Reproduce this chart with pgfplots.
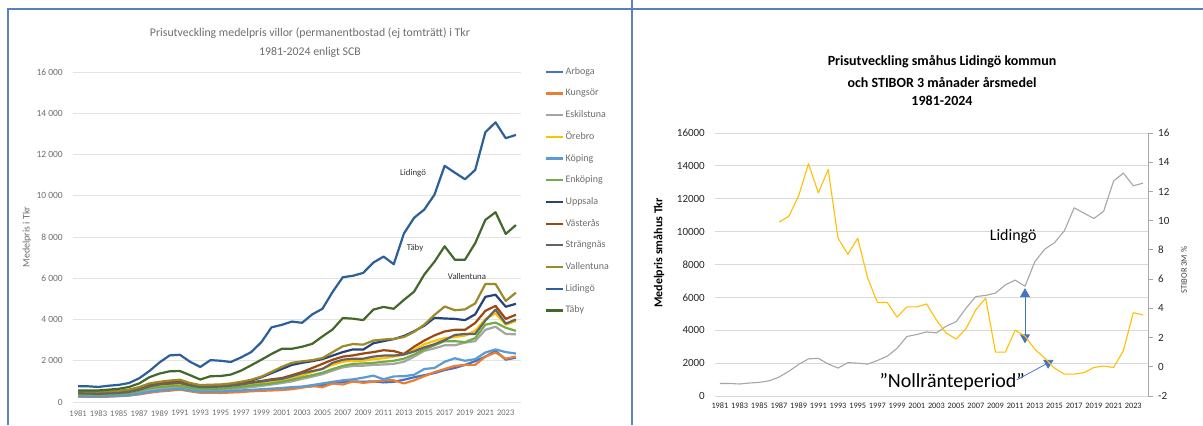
\documentclass[border=0pt]{standalone}
\usepackage{fontspec}
\setmainfont{Carlito}
\usepackage{pgfplots}
\usepackage{pgfplotstable}
\pgfplotsset{compat=1.18}
\usetikzlibrary{arrows.meta}

% Office palette for the twelve municipalities
\definecolor{cArboga}{HTML}{4472C4}
\definecolor{cKungsor}{HTML}{ED7D31}
\definecolor{cEskilstuna}{HTML}{A5A5A5}
\definecolor{cOrebro}{HTML}{FFC000}
\definecolor{cKoping}{HTML}{5B9BD5}
\definecolor{cEnkoping}{HTML}{70AD47}
\definecolor{cUppsala}{HTML}{264478}
\definecolor{cVasteras}{HTML}{9E480E}
\definecolor{cStrangnas}{HTML}{636363}
\definecolor{cVallentuna}{HTML}{9A8A2A}
\definecolor{cLidingo}{HTML}{2D5F98}
\definecolor{cTaby}{HTML}{43682B}
\definecolor{txtgray}{HTML}{6E6E6E}
\definecolor{gridgray}{HTML}{E3E3E3}
\definecolor{gridgray2}{HTML}{D9D9D9}
\definecolor{axisgray}{HTML}{A6A6A6}
\definecolor{frameblue}{HTML}{5B7FC4}
\definecolor{arrowblue}{HTML}{4472C4}

% Average villa price (Tkr) per municipality
\pgfplotstableread{
year Arboga Kungsor Eskilstuna Orebro Koping Enkoping Uppsala Vasteras Strangnas Vallentuna Lidingo Taby
1981 300 260 330 400 280 380 500 450 420 520 760 560
1982 290 250 320 390 270 370 490 440 410 510 760 560
1983 290 250 320 380 270 360 480 430 400 500 730 560
1984 300 260 330 400 280 380 500 450 420 520 790 600
1985 310 280 350 420 300 400 520 470 440 540 830 640
1986 340 310 390 470 330 440 580 530 490 600 920 730
1987 400 370 470 570 400 540 700 650 600 720 1150 900
1988 480 450 580 720 490 670 860 820 760 900 1500 1200
1989 540 510 640 790 560 730 940 900 850 980 1920 1380
1990 580 550 680 830 600 760 990 950 890 1040 2260 1490
1991 620 600 700 850 640 780 1010 980 920 1080 2290 1500
1992 540 520 620 740 560 690 880 850 800 920 1950 1300
1993 470 450 560 680 500 630 790 760 720 820 1700 1090
1994 480 450 570 690 510 640 800 770 730 840 2030 1250
1995 480 440 580 700 510 650 820 790 750 850 2000 1260
1996 500 460 610 740 530 690 870 830 790 900 1940 1330
1997 530 480 660 790 560 740 940 900 850 980 2160 1520
1998 560 520 720 850 590 800 1040 960 930 1080 2420 1780
1999 580 540 780 900 620 850 1200 1020 990 1230 2900 2050
2000 600 560 850 960 650 900 1400 1100 1060 1460 3620 2330
2001 630 580 920 1050 680 980 1600 1160 1120 1700 3740 2580
2002 680 620 1000 1150 720 1080 1800 1300 1250 1900 3900 2580
2003 720 700 1120 1300 750 1200 1900 1450 1400 1970 3840 2680
2004 760 780 1230 1450 820 1300 1980 1650 1500 2030 4250 2820
2005 820 720 1350 1620 900 1420 2080 1850 1600 2130 4520 3180
2006 900 900 1520 1800 980 1600 2250 2050 1900 2420 5340 3520
2007 970 850 1680 1950 1050 1750 2420 2200 2050 2700 6050 4070
2008 1000 1000 1750 2000 1100 1850 2550 2260 2100 2810 6120 4040
2009 980 930 1760 2000 1180 1870 2540 2350 2100 2780 6260 3970
2010 1000 980 1800 2080 1280 1900 2850 2420 2200 2980 6760 4480
2011 950 1050 1820 2120 1100 1950 2950 2510 2250 3030 7050 4610
2012 980 1050 1850 2200 1240 2000 3050 2470 2250 3060 6680 4520
2013 1080 900 1950 2300 1250 2100 3200 2330 2300 3150 8170 4950
2014 1200 1050 2200 2520 1320 2300 3430 2680 2450 3400 8930 5350
2015 1300 1250 2480 2800 1600 2550 3700 2980 2650 3750 9330 6180
2016 1400 1450 2600 2960 1650 2750 4080 3230 2800 4220 10050 6800
2017 1550 1600 2750 3100 1950 2950 4050 3420 3000 4630 11450 7550
2018 1650 1750 2750 3150 2120 2950 4030 3500 3250 4450 11120 6900
2019 1800 1800 2880 3220 2000 2900 3970 3500 3300 4490 10800 6900
2020 1980 1800 2950 3450 2080 3100 4250 3830 3300 4780 11250 7700
2021 2200 2200 3500 4020 2400 3750 5100 4420 3950 5720 13080 8830
2022 2480 2400 3650 4300 2550 3850 5200 4660 4480 5720 13560 9200
2023 2050 2100 3300 3750 2420 3600 4620 4030 3800 4900 12790 8150
2024 2150 2200 3280 3920 2350 3450 4760 4230 4000 5300 12950 8580
}\prices

% STIBOR 3M, annual mean (%)
\pgfplotstableread{
year rate
1987 9.9
1988 10.3
1989 11.7
1990 13.9
1991 11.9
1992 13.5
1993 8.8
1994 7.7
1995 8.8
1996 6.1
1997 4.4
1998 4.4
1999 3.4
2000 4.1
2001 4.1
2002 4.3
2003 3.2
2004 2.3
2005 1.9
2006 2.6
2007 3.9
2008 4.7
2009 1.0
2010 1.0
2011 2.5
2012 2.1
2013 1.2
2014 0.6
2015 -0.1
2016 -0.5
2017 -0.5
2018 -0.4
2019 -0.05
2020 0.05
2021 -0.05
2022 1.1
2023 3.7
2024 3.55
}\stibor

\pgfplotsset{
  yearaxis/.style={
    scale only axis,
    anchor=south west,
    xmin=1980.5, xmax=2024.5,
    xtick={1981,1983,...,2023},
    scaled ticks=false,
    /pgf/number format/assume math mode=true,
    /pgf/number format/1000 sep={},
    axis line style={draw=none},
    major tick length=0pt,
    clip=false,
  },
  muni/.style={line width=2.2bp, line join=round},
}

\begin{document}
\begin{tikzpicture}[x=1bp,y=1bp]
\useasboundingbox (0,0) rectangle (1203,425);
\fill[white] (0,0) rectangle (1203,425);

% panel frames
\draw[frameblue, line width=1.5bp] (8,0) -- (8,416) -- (1203,416);
\draw[frameblue, line width=1.5bp] (632,0) -- (632,425);

% ---------------- left panel ----------------
\node[text=txtgray, font=\fontsize{11.8bp}{13bp}\selectfont] at (310,392)
  {Prisutveckling medelpris villor (permanentbostad (ej tomträtt) i Tkr};
\node[text=txtgray, font=\fontsize{11.8bp}{13bp}\selectfont] at (310,373)
  {1981-2024 enligt SCB};
\node[text=txtgray, rotate=90, font=\fontsize{10bp}{12bp}\selectfont] at (27,188)
  {Medelpris i Tkr};

\begin{axis}[yearaxis,
  at={(73bp,23bp)}, width=448bp, height=330bp,
  ymin=0, ymax=16000,
  ytick={0,2000,...,16000},
  yticklabels={0,2 000,4 000,6 000,8 000,10 000,12 000,14 000,16 000},
  ymajorgrids, grid style={gridgray, line width=0.8bp},
  xticklabel style={font=\fontsize{8.5bp}{10bp}\selectfont, text=txtgray, inner sep=0pt, anchor=north, yshift=-8bp},
  yticklabel style={font=\fontsize{9.5bp}{11bp}\selectfont, text=txtgray, inner sep=0pt, anchor=east, xshift=-10bp},
  legend cell align=left,
  legend style={at={(1.054,1.018)}, anchor=north west, draw=none, fill=none,
    font=\fontsize{10bp}{12bp}\selectfont, text=txtgray,
    row sep=10.7bp, inner sep=0pt,
    nodes={inner sep=1bp, text height=7bp, text depth=2bp}},
  legend image code/.code={\draw[#1] (0bp,0bp) -- (17bp,0bp);},
]
\addplot[muni, cArboga] table[x=year, y=Arboga] {\prices};
\addlegendentry{Arboga}
\addplot[muni, cKungsor] table[x=year, y=Kungsor] {\prices};
\addlegendentry{Kungsör}
\addplot[muni, cEskilstuna] table[x=year, y=Eskilstuna] {\prices};
\addlegendentry{Eskilstuna}
\addplot[muni, cOrebro] table[x=year, y=Orebro] {\prices};
\addlegendentry{Örebro}
\addplot[muni, cKoping] table[x=year, y=Koping] {\prices};
\addlegendentry{Köping}
\addplot[muni, cEnkoping] table[x=year, y=Enkoping] {\prices};
\addlegendentry{Enköping}
\addplot[muni, cUppsala] table[x=year, y=Uppsala] {\prices};
\addlegendentry{Uppsala}
\addplot[muni, cVasteras] table[x=year, y=Vasteras] {\prices};
\addlegendentry{Västerås}
\addplot[muni, cStrangnas] table[x=year, y=Strangnas] {\prices};
\addlegendentry{Strängnäs}
\addplot[muni, cVallentuna] table[x=year, y=Vallentuna] {\prices};
\addlegendentry{Vallentuna}
\addplot[muni, cLidingo] table[x=year, y=Lidingo] {\prices};
\addlegendentry{Lidingö}
\addplot[muni, cTaby] table[x=year, y=Taby] {\prices};
\addlegendentry{Täby}

\node[font=\fontsize{8.8bp}{10bp}\selectfont, text=black!80] at (axis cs:2013.9,11100) {Lidingö};
\node[font=\fontsize{8.8bp}{10bp}\selectfont, text=black!80] at (axis cs:2014.1,7470) {Täby};
\node[font=\fontsize{8.8bp}{10bp}\selectfont, text=black!80] at (axis cs:2019.2,6110) {Vallentuna};
\end{axis}

% ---------------- right panel ----------------
\node[font=\bfseries\fontsize{14bp}{16bp}\selectfont] at (942,363) {Prisutveckling småhus Lidingö kommun};
\node[font=\bfseries\fontsize{14bp}{16bp}\selectfont] at (942,343) {och STIBOR 3 månader årsmedel};
\node[font=\bfseries\fontsize{14bp}{16bp}\selectfont] at (942,324) {1981-2024};
\node[rotate=90, font=\bfseries\fontsize{12bp}{14bp}\selectfont] at (659,172) {Medelpris småhus Tkr};
\node[rotate=90, text=black!75, font=\fontsize{8.5bp}{10bp}\selectfont] at (1184,155) {STIBOR 3M \%};

\begin{axis}[yearaxis,
  at={(715bp,29bp)}, width=433bp, height=263bp,
  ymin=0, ymax=16000,
  ytick={0,2000,...,16000},
  yticklabels={0,2000,4000,6000,8000,10000,12000,14000,16000},
  ymajorgrids, grid style={gridgray2, line width=0.8bp},
  xticklabel style={font=\fontsize{8.3bp}{10bp}\selectfont, text=black!85, inner sep=0pt, anchor=north, yshift=-7bp},
  yticklabel style={font=\fontsize{11bp}{12bp}\selectfont, text=black!85, inner sep=0pt, anchor=east, xshift=-10bp},
]
\addplot[axisgray, line width=1.1bp, line join=round] table[x=year, y=Lidingo] {\prices};

\node[font=\fontsize{16bp}{18bp}\selectfont] at (axis cs:2010.8,9734) {Lidingö};
\node[font=\fontsize{20bp}{22bp}\selectfont] at (axis cs:2004.6,852) {”Nollränteperiod”};
\draw[arrowblue, line width=0.75bp, {Triangle[width=10bp,length=9bp]}-{Triangle[width=10bp,length=9bp]}]
  (axis cs:2012,3200) -- (axis cs:2012,6560);
\draw[arrowblue, line width=0.75bp, -{Triangle[width=10bp,length=9bp]}]
  (axis cs:2011.15,975) -- (axis cs:2014.9,2190);
\end{axis}

\begin{axis}[
  scale only axis, anchor=south west,
  at={(715bp,29bp)}, width=433bp, height=263bp,
  xmin=1980.5, xmax=2024.5, ymin=-2, ymax=16,
  axis x line=none, axis y line*=right,
  y axis line style={axisgray, line width=0.8bp},
  ytick={-2,0,...,16},
  yticklabels={-2,0,2,4,6,8,10,12,14,16},
  tick align=outside, major tick length=5bp,
  ytick style={axisgray, line width=0.8bp},
  yticklabel style={font=\fontsize{11bp}{12bp}\selectfont, text=black!85, inner sep=0pt, anchor=west, xshift=5bp},
]
\addplot[cOrebro, line width=1.1bp, line join=round] table[x=year, y=rate] {\stibor};
\end{axis}
\end{tikzpicture}
\end{document}
